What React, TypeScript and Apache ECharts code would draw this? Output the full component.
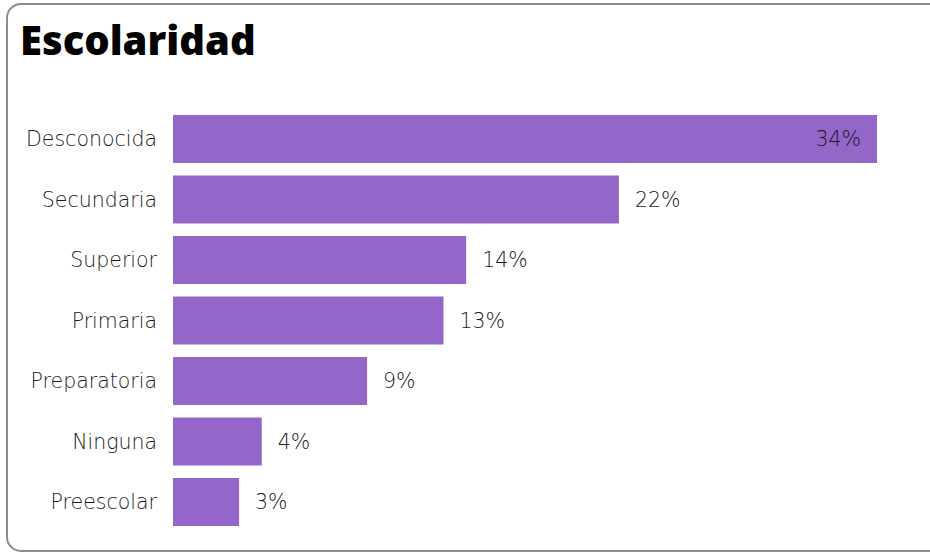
import React, { useEffect, useRef } from "react";
import * as echarts from "echarts";

const categories = ["Desconocida", "Secundaria", "Superior", "Primaria", "Preparatoria", "Ninguna", "Preescolar"];
const values = [34.1, 21.6, 14.2, 13.1, 9.4, 4.3, 3.2];
const title = "Escolaridad";

const LABEL_FONT = "'DejaVu Sans'";

export default function App() {
  const ref = useRef<HTMLDivElement>(null);
  useEffect(() => {
    if (!ref.current) return;
    const chart = echarts.init(ref.current, null, { renderer: "svg" });
    const maxV = Math.max(...values);
    chart.setOption({
      animation: false,
      graphic: [
        {
          type: "rect",
          shape: { x: 7, y: 4, width: 960, height: 547, r: 14 },
          style: { fill: "#fff", stroke: "#8c8c8c", lineWidth: 2 },
          z: -10,
        },
        {
          type: "text",
          left: 20,
          top: 19,
          style: {
            text: title,
            font: "800 40px 'Open Sans'",
            fill: "#000",
          },
        },
      ],
      grid: { left: 173, right: 53, top: 108.75, bottom: 23.75, containLabel: false },
      xAxis: {
        type: "value",
        min: 0,
        max: maxV,
        show: false,
      },
      yAxis: {
        type: "category",
        inverse: true,
        data: categories,
        axisLine: { show: false },
        axisTick: { show: false },
        axisLabel: {
          color: "#1a1a1a",
          fontFamily: LABEL_FONT,
          fontWeight: 200,
          fontSize: 20.5,
          margin: 16,
        },
      },
      series: [
        {
          type: "bar",
          barWidth: 48,
          itemStyle: { color: "#9466CA" },
          data: values.map((v, i) => ({
            value: v,
            label: {
              show: true,
              position: i === 0 ? "insideRight" : "right",
              distance: 16,
              formatter: () => Math.round(v) + "%",
              color: "#1a1a1a",
              fontFamily: LABEL_FONT,
              fontWeight: 200,
              fontSize: 20.5,
            },
          })),
        },
      ],
    });
    return () => chart.dispose();
  }, []);
  return (
    <div style={{ position: "fixed", left: 0, top: 0, width: 930, height: 556, background: "#fff" }}>
      <div ref={ref} style={{ width: 930, height: 556 }} />
    </div>
  );
}
